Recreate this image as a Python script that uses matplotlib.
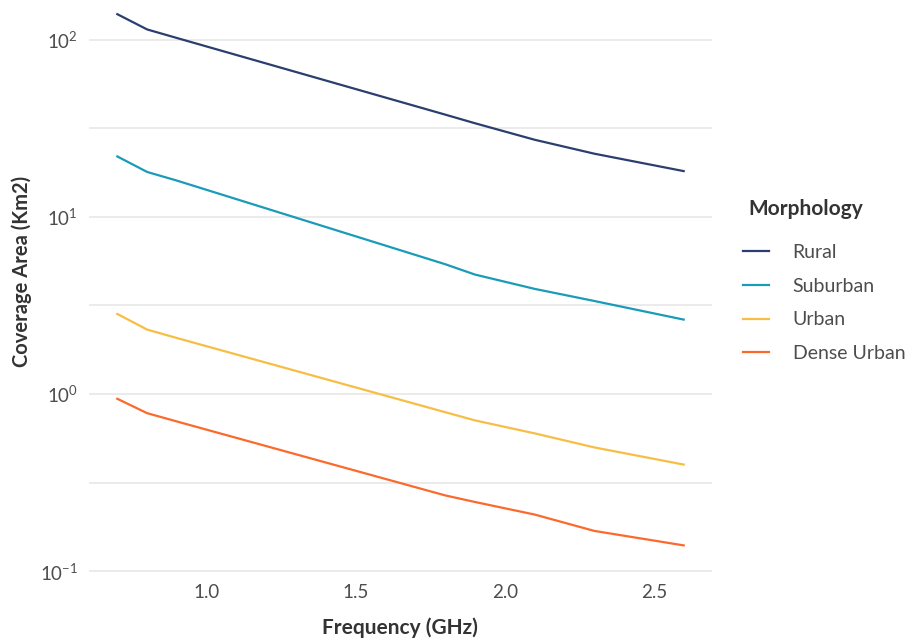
import matplotlib
matplotlib.use("Agg")
import matplotlib.pyplot as plt
import numpy as np

plt.rcParams["font.family"] = ["Lato", "DejaVu Sans"]
plt.rcParams["mathtext.default"] = "regular"
plt.rcParams["axes.unicode_minus"] = False

# frequencies (GHz) and coverage area (km2) per morphology
frequency = [0.7, 0.8, 0.9, 1.8, 1.9, 2.1, 2.3, 2.6]
rural = [139, 114, 102, 37.7, 33.7, 27.2, 22.7, 18.1]
suburban = [21.9, 17.9, 16.0, 5.4, 4.72, 3.92, 3.35, 2.63]
urban = [2.83, 2.31, 2.07, 0.79, 0.71, 0.60, 0.50, 0.40]
dense_urban = [0.94, 0.78, 0.70, 0.268, 0.246, 0.209, 0.169, 0.140]

series_names = ["Rural", "Suburban", "Urban", "Dense Urban"]
series_values = [rural, suburban, urban, dense_urban]
colors = ["#2B3F6E", "#1A9BB8", "#F7BE45", "#FB6A2C"]

x_ticks = [1.0, 1.5, 2.0, 2.5]
y_major = [0.1, 1, 10, 100]
y_minor = [10 ** -0.5, 10 ** 0.5, 10 ** 1.5]

W, H = 911, 641
fig = plt.figure(figsize=(W / 100, H / 100), dpi=100)
ax = fig.add_axes([89 / W, 1 - 572 / H, (712 - 89) / W, 572 / H])

for name, values, color in zip(series_names, series_values, colors):
    ax.plot(frequency, values, color=color, linewidth=1.6, label=name)

ax.set_yscale("log")
ax.set_xlim(0.605, 2.695)
ax.set_ylim(10 ** -1.004, 10 ** 2.223)

ax.set_xticks(x_ticks)
ax.set_xticklabels([f"{t:.1f}" for t in x_ticks])
ax.set_yticks(y_major)
ax.set_yticklabels([f"$10^{{{int(np.log10(v))}}}$" for v in y_major])
ax.set_yticks(y_minor, minor=True)
ax.yaxis.set_minor_formatter(plt.NullFormatter())

ax.grid(axis="y", which="both", color="#E6E6E6", linewidth=1.1)
ax.grid(axis="x", visible=False)
ax.set_axisbelow(True)
for spine in ax.spines.values():
    spine.set_visible(False)
ax.tick_params(axis="both", which="both", length=0, labelsize=13.5, labelcolor="#4D4D4D")
ax.tick_params(axis="x", pad=9)
ax.tick_params(axis="y", pad=8)

ax.set_xlabel("Frequency (GHz)", fontsize=15, fontweight="bold", color="#333333")
ax.set_ylabel("Coverage Area (Km2)", fontsize=14.5, fontweight="bold", color="#333333")
ax.xaxis.set_label_coords((400 - 89) / (712 - 89), -(628 - 572) / 572)
ax.yaxis.set_label_coords(-(89 - 22) / (712 - 89), (572 - 271) / 572)
ax.xaxis.label.set_verticalalignment("center")
ax.yaxis.label.set_verticalalignment("center")

fig.text(748 / W, 1 - 209 / H, "Morphology", fontsize=15, fontweight="bold",
         color="#333333", ha="left", va="center")

leg = ax.legend(
    loc="upper left",
    bbox_to_anchor=(743 / W, 1 - 244 / H),
    bbox_transform=fig.transFigure,
    frameon=False,
    fontsize=14,
    handlelength=1.35,
    handletextpad=1.2,
    labelspacing=0.86,
    borderaxespad=0,
    borderpad=0,
)
for text in leg.get_texts():
    text.set_color("#4D4D4D")

fig.savefig("out.png", dpi=100)
